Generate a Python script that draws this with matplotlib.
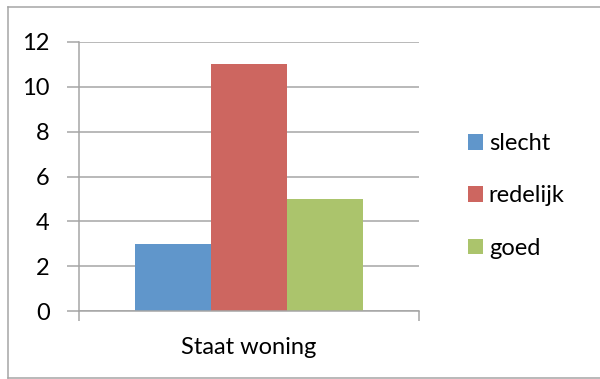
import matplotlib.pyplot as plt
from matplotlib.patches import Patch
from matplotlib.lines import Line2D

# data
category = "Staat woning"
series = ["slecht", "redelijk", "goed"]
values = [3, 11, 5]
colors = ["#6096CB", "#CD6660", "#ABC46C"]
yticks = [0, 2, 4, 6, 8, 10, 12]

plt.rcParams['font.family'] = ['Lato', 'DejaVu Sans']
grey = "#A5A5A5"
fs = 17

fig = plt.figure(figsize=(6, 3.79), dpi=100)
ax = fig.add_axes([79 / 600, 1 - 311 / 379, 340 / 600, 269 / 379])

# grouped bars around a single category
w = 0.2235
for i, (name, v, c) in enumerate(zip(series, values, colors)):
    ax.bar((i - 1) * w, v, width=w, color=c, label=name)

ax.set_xlim(-0.5, 0.5)
ax.set_ylim(0, 12)
ax.set_yticks(yticks)
ax.set_yticklabels([str(t) for t in yticks], fontsize=fs)
ax.yaxis.grid(True, color=grey, linewidth=1.1)
ax.set_axisbelow(True)

# category axis: ticks only at the outer edges
ax.set_xticks([-0.5, 0.5])
ax.set_xticklabels(["", ""])
ax.tick_params(axis='x', direction='out', length=7, width=1.1, color=grey)
ax.tick_params(axis='y', direction='out', length=9, width=1.1, color=grey, pad=12)
ax.text(0, -0.135, category, transform=ax.get_xaxis_transform(),
        ha='center', va='center', fontsize=fs)

for s in ['top', 'right']:
    ax.spines[s].set_visible(False)
for s in ['left', 'bottom']:
    ax.spines[s].set_color(grey)
    ax.spines[s].set_linewidth(1.1)

handles = [Patch(facecolor=c, edgecolor='none') for c in colors]
fig.legend(handles, series, loc='center left', bbox_to_anchor=(456 / 600, 1 - 196 / 379),
           frameon=False, fontsize=fs, handlelength=0.64, handleheight=0.64,
           handletextpad=0.25, labelspacing=1.32, borderpad=0)

# outer chart border (right side runs off the image)
bl, bb, bt = 8 / 600, 1 - 378 / 379, 1 - 7 / 379
for xs, ys in [([bl, 1.0], [bt, bt]), ([bl, 1.0], [bb, bb]), ([bl, bl], [bb, bt])]:
    fig.add_artist(Line2D(xs, ys, transform=fig.transFigure, color=grey, linewidth=1.1))

fig.savefig("out.png", dpi=100)
